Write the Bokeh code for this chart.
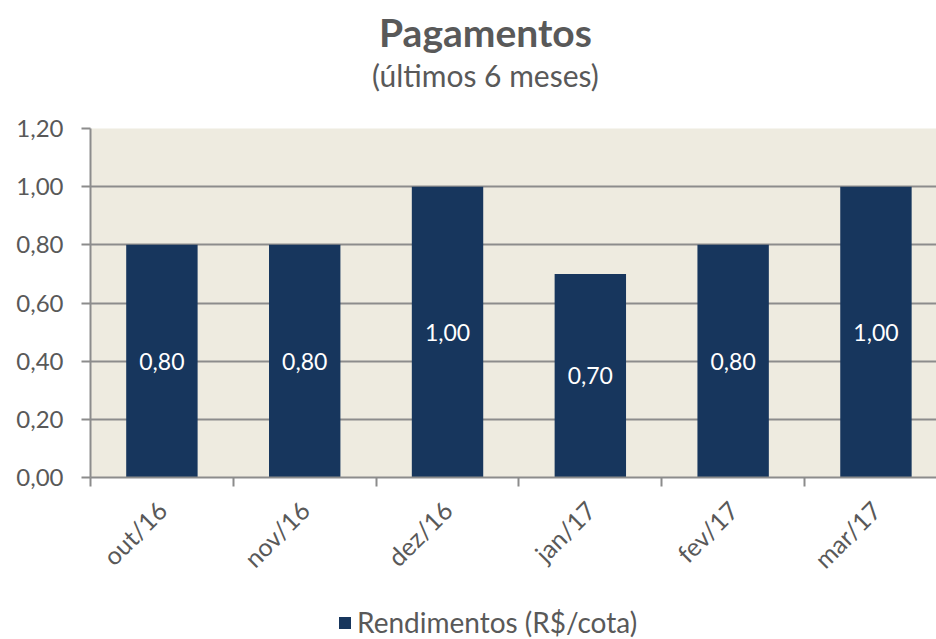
from bokeh.plotting import figure
from bokeh.models import (ColumnDataSource, FixedTicker, CustomJSTickFormatter, Label,
                          Legend, LegendItem, LabelSet, Range1d)
from bokeh.core.properties import value
from bokeh.layouts import column
from bokeh.embed import file_html
from bokeh.resources import INLINE
import math

months = ["out/16", "nov/16", "dez/16", "jan/17", "fev/17", "mar/17"]
values = [0.80, 0.80, 1.00, 0.70, 0.80, 1.00]
y_ticks = [0.0, 0.2, 0.4, 0.6, 0.8, 1.0, 1.2]
title_text = "Pagamentos"
subtitle_text = "(últimos 6 meses)"
series_name = "Rendimentos (R$/cota)"

FONT = "Lato"
GRAY = "#595959"
NAVY = "#17365D"
AXIS = "#8C8C8C"
W = 936

# ---------- title strip (frame aligned with main chart: starts at x=90) ----------
tf = figure(width=W, height=108, x_range=Range1d(0, 1), y_range=Range1d(0, 1),
            output_backend="svg", toolbar_location=None, min_border=0)
tf.axis.visible = False
tf.grid.visible = False
tf.outline_line_color = None
tf.background_fill_color = "white"
tf.add_layout(Label(x=395, y=77, x_units="screen", y_units="screen", text=title_text,
                    text_font=FONT, text_font_size="39px", text_font_style="bold",
                    text_color=GRAY, text_align="center", text_baseline="middle"))
tf.add_layout(Label(x=395, y=34, x_units="screen", y_units="screen", text=subtitle_text,
                    text_font=FONT, text_font_size="30px", text_color=GRAY,
                    text_align="center", text_baseline="middle"))

# ---------- main chart ----------
centers = [i + 0.5 for i in range(len(months))]
bounds = [float(i) for i in range(len(months) + 1)]
labels = [f"{v:.2f}".replace(".", ",") for v in values]
src = ColumnDataSource(dict(x=centers, v=values, half=[v / 2 for v in values], lab=labels))

p = figure(x_range=Range1d(0, 5.924), y_range=Range1d(0, 1.2), width=W, height=481,
           output_backend="svg", toolbar_location=None,
           min_border_left=90, min_border_right=0, min_border_top=20, min_border_bottom=112)
p.background_fill_color = "#EEEBE0"
p.border_fill_color = "white"
p.outline_line_color = None

p.vbar(x="x", top="v", width=0.5, source=src, fill_color=NAVY, line_color=None)

p.add_layout(LabelSet(x="x", y="half", text="lab", source=src, text_color="white",
                      text_font=value(FONT), text_font_size="23px", text_align="center",
                      text_baseline="middle"))

p.yaxis.ticker = FixedTicker(ticks=y_ticks)
p.yaxis.formatter = CustomJSTickFormatter(code="return tick.toFixed(2).replace('.', ',');")
p.xaxis.ticker = FixedTicker(ticks=centers, minor_ticks=bounds)
p.xaxis.major_label_overrides = {c: m for c, m in zip(centers, months)}
for ax in (p.xaxis[0], p.yaxis[0]):
    ax.axis_line_color = AXIS
    ax.axis_line_width = 2
    ax.major_tick_line_color = AXIS
    ax.major_tick_line_width = 2
    ax.minor_tick_line_color = None
    ax.major_label_text_color = GRAY
    ax.major_label_text_font = FONT
    ax.major_label_text_font_size = "24px"
p.yaxis.major_tick_out = 9
p.yaxis.major_tick_in = 0
p.yaxis.major_label_standoff = 18
p.xaxis.major_tick_line_color = None
p.xaxis.major_tick_out = 9
p.xaxis.major_tick_in = 0
p.xaxis.minor_tick_line_color = AXIS
p.xaxis.minor_tick_line_width = 2
p.xaxis.minor_tick_out = 9
p.xaxis.minor_tick_in = 0
p.xaxis.major_label_text_font_size = "25px"
p.xaxis.major_label_orientation = math.pi / 4
p.xaxis.major_label_standoff = 19

p.ygrid.grid_line_color = AXIS
p.ygrid.grid_line_width = 2
p.xgrid.grid_line_color = None

# ---------- legend strip ----------
lf = figure(width=W, height=50, x_range=Range1d(0, 1), y_range=Range1d(0, 1),
            output_backend="svg", toolbar_location=None, min_border=0)
lf.axis.visible = False
lf.grid.visible = False
lf.outline_line_color = None
lf.background_fill_color = "white"
# swatch renderer for the legend (its bar lies outside the visible range)
lr = lf.vbar(x=[5.0], top=[0.5], width=0.5, fill_color=NAVY, line_color=None)
legend = Legend(items=[LegendItem(label=series_name, renderers=[lr])],
                orientation="horizontal", location=(247, 0),
                label_text_font=FONT, label_text_font_size="28px", label_text_color=GRAY,
                border_line_color=None, background_fill_alpha=0,
                glyph_width=15, glyph_height=15, label_standoff=5, margin=0, padding=0)
lf.add_layout(legend, "center")

layout = column(tf, p, lf, spacing=0)
open("out.html", "w").write(file_html(layout, INLINE))
